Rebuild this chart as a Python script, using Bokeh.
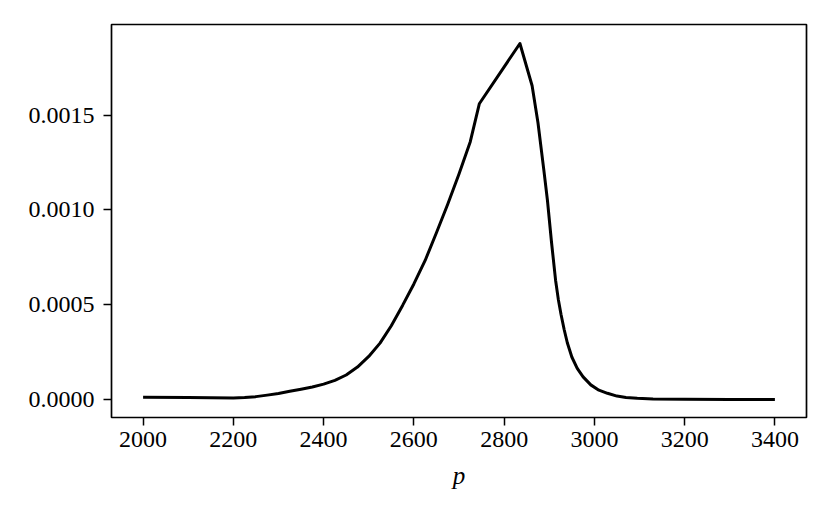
from bokeh.plotting import figure
from bokeh.models import Range1d, FixedTicker, PrintfTickFormatter
from bokeh.embed import file_html
from bokeh.resources import INLINE

# data
p_vals = [2000, 2100, 2200, 2225, 2250, 2275, 2300, 2325, 2350, 2375, 2400, 2425,
          2450, 2475, 2500, 2525, 2550, 2575, 2600, 2625, 2650, 2675, 2700, 2725,
          2745, 2835, 2862, 2875, 2888, 2896, 2905, 2914, 2920, 2926, 2933, 2940,
          2950, 2962, 2975, 2992, 3010, 3029, 3050, 3070, 3095, 3130, 3200, 3300,
          3400]
density = [0.0000130, 0.0000110, 0.0000090, 0.0000110, 0.0000160, 0.0000240,
           0.0000330, 0.0000440, 0.0000550, 0.0000670, 0.0000820, 0.0001020,
           0.0001300, 0.0001720, 0.0002280, 0.0002980, 0.0003900, 0.0004970,
           0.0006100, 0.0007340, 0.0008800, 0.0010300, 0.0011900, 0.0013600,
           0.0015600, 0.0018780, 0.0016550, 0.0014600, 0.0012100, 0.0010500,
           0.0008300, 0.0006300, 0.0005300, 0.0004500, 0.0003700, 0.0003000,
           0.0002250, 0.0001650, 0.0001200, 0.0000780, 0.0000500, 0.0000336,
           0.0000190, 0.0000120, 0.0000074, 0.0000040, 0.0000020, 0.0000010,
           0.0000005]
x_ticks = [2000, 2200, 2400, 2600, 2800, 3000, 3200, 3400]
y_ticks = [0.0, 0.0005, 0.0010, 0.0015]

W, H = 822, 505
p = figure(width=W, height=H, output_backend="svg", toolbar_location=None,
           x_range=Range1d(1930, 3470), y_range=Range1d(-0.000094, 0.001978),
           min_border_left=111, min_border_right=W - 806,
           min_border_top=24, min_border_bottom=H - 417)
p.background_fill_color = "white"
p.border_fill_color = "white"
p.outline_line_color = "black"
p.outline_line_width = 1.7
p.xgrid.visible = False
p.ygrid.visible = False

p.line(p_vals, density, line_color="black", line_width=3.0, line_join="round")

font = "Liberation Serif"
for ax in (p.xaxis[0], p.yaxis[0]):
    ax.axis_line_color = None
    ax.major_tick_out = 8
    ax.major_tick_in = 0
    ax.major_tick_line_width = 1.5
    ax.major_tick_line_color = "black"
    ax.minor_tick_line_color = None
    ax.major_label_text_font = font
    ax.major_label_text_font_size = "24px"
    ax.major_label_text_color = "black"

p.xaxis[0].ticker = FixedTicker(ticks=x_ticks)
p.yaxis[0].ticker = FixedTicker(ticks=y_ticks)
p.yaxis[0].formatter = PrintfTickFormatter(format="%.4f")
p.xaxis[0].major_label_standoff = 6
p.yaxis[0].major_label_standoff = 9

p.xaxis[0].axis_label = "p"
p.xaxis[0].axis_label_text_font = font
p.xaxis[0].axis_label_text_font_style = "italic"
p.xaxis[0].axis_label_text_font_size = "25px"
p.xaxis[0].axis_label_text_color = "black"
p.xaxis[0].axis_label_standoff = 12

open("out.html", "w").write(file_html(p, INLINE))
